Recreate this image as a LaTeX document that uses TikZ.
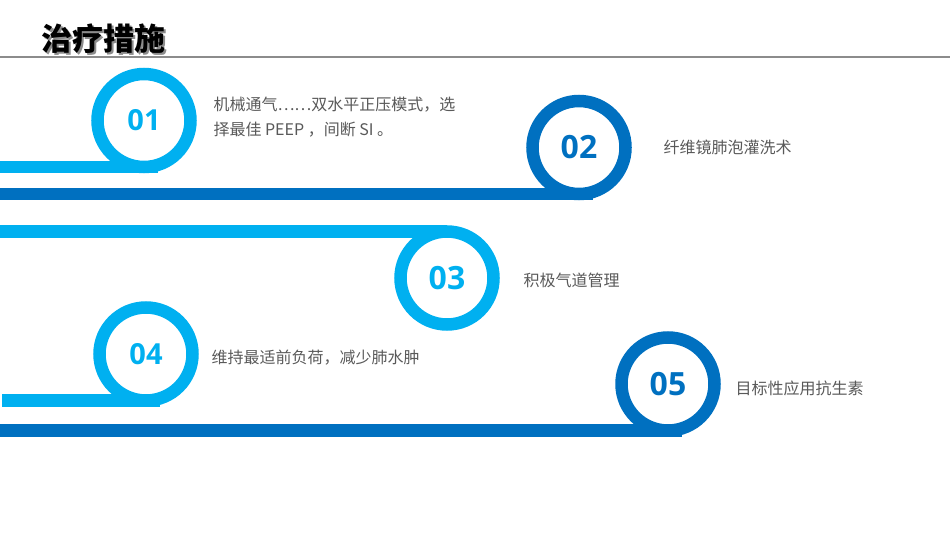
\documentclass[tikz,border=0pt]{standalone}
\usepackage{fontspec}
\setmainfont{Noto Sans CJK SC}
\newfontfamily\numfont{Open Sans}
\definecolor{lightblue}{HTML}{00B0F0}
\definecolor{darkblue}{HTML}{0070C0}
\definecolor{txtgray}{HTML}{595959}

\begin{document}
\begin{tikzpicture}[x=1pt, y=-1pt, ring/.style={circle, draw=#1, text=#1, line width=12.5pt, minimum size=93pt, inner sep=0pt, outer sep=0pt, font=\numfont\bfseries\fontsize{29}{29}\selectfont}, big/.style={font=\numfont\bfseries\fontsize{32}{32}\selectfont}, bar/.style={draw=#1, line width=12.5pt}, item/.style={anchor=west, align=left, text=txtgray, font=\fontsize{16}{25}\selectfont}]
			\useasboundingbox (0,0) rectangle (950,535);
			\coordinate (edge) at (0,0);
			\node[anchor=west, text=black!45, font=\bfseries\fontsize{31}{31}\selectfont] (shadow) at (40,41) {治疗措施};
			\node[anchor=west, font=\bfseries\fontsize{31}{31}\selectfont] (title) at (38,39) {治疗措施};
			\draw[black!45, line width=2pt] (edge |- 0,57.5) -- (950,57.5);
			\node[ring=lightblue] (c1) at (144,120.5) {01};
			\node[ring=darkblue, big] (c2) at (579,147.5) {02};
			\node[ring=lightblue, big] (c3) at (447,278) {03};
			\node[ring=lightblue] (c4) at (146,354) {04};
			\node[ring=darkblue, big] (c5) at (668,384) {05};
			\draw[bar=lightblue] (c1.south -| edge) -- (c1.south) -- ++(14,0);
			\draw[bar=darkblue] (c2.south -| edge) -- (c2.south) -- ++(14,0);
			\draw[bar=lightblue] (c3.north -| edge) -- (c3.north);
			\draw[bar=lightblue] (c4.south -| 2,0) -- (c4.south) -- ++(14,0);
			\draw[bar=darkblue] (c5.south -| edge) -- (c5.south) -- ++(14,0);
			\node[item] (t1) at (210,117.5) {机械通气……双水平正压模式，选\\择最佳 PEEP ，间断 SI 。};
			\node[item] (t2) at (660,147) {纤维镜肺泡灌洗术};
			\node[item] (t3) at (520,280) {积极气道管理};
			\node[item] (t4) at (208,358) {维持最适前负荷，减少肺水肿};
			\node[item] (t5) at (732,388) {目标性应用抗生素};
\end{tikzpicture}
\end{document}
